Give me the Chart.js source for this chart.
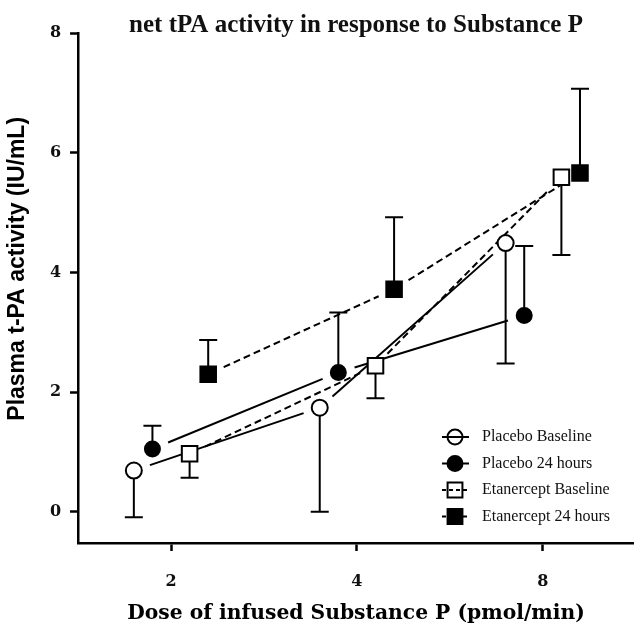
<!DOCTYPE html>
<html><head><meta charset="utf-8">
<script src="https://cdn.jsdelivr.net/npm/chart.js@4.4.1/dist/chart.umd.min.js"></script>
<style>html,body{margin:0;padding:0;background:#fff;overflow:hidden}canvas{display:block}</style>
</head><body><canvas id="c" width="634" height="626"></canvas>
<script>
// ---- data ----
const doses = [2, 4, 8];
const xTickLabels = ['2', '4', '8'];
const yTickValues = [0, 2, 4, 6, 8];
const yTickLabels = ['0', '2', '4', '6', '8'];
const seriesNames = ['Placebo Baseline', 'Placebo 24 hours', 'Etanercept Baseline', 'Etanercept 24 hours'];
const placeboBaseline = [0.69, 1.74, 4.49];
const placeboBaselineErr = [0.78, 1.74, 2.01];
const placebo24h = [1.05, 2.33, 3.28];
const placebo24hErr = [0.39, 1.00, 1.16];
const etanerceptBaseline = [0.97, 2.44, 5.59];
const etanerceptBaselineErr = [0.40, 0.54, 1.30];
const etanercept24h = [2.30, 3.72, 5.66];
const etanercept24hErr = [0.57, 1.20, 1.41];

// ---- styles (positions/sizes) ----
const styles = [
  {shift: -0.2, pointStyle: 'circle', fill: '#ffffff', radius: 8,   dash: [],     errDir: -1},
  {shift: -0.1, pointStyle: 'circle', fill: '#000000', radius: 7.5, dash: [],     errDir: 1},
  {shift:  0.1, pointStyle: 'rect',   fill: '#ffffff', radius: 11,  dash: [7, 4], errDir: -1},
  {shift:  0.2, pointStyle: 'rect',   fill: '#000000', radius: 11,  dash: [7, 4], errDir: 1}
];
const values = [placeboBaseline, placebo24h, etanerceptBaseline, etanercept24h];
const errors = [placeboBaselineErr, placebo24hErr, etanerceptBaselineErr, etanercept24hErr];

const datasets = seriesNames.map((name, k) => ({
  label: name,
  data: doses.map((d, i) => ({x: d * Math.pow(2, styles[k].shift), y: values[k][i]})),
  errors: errors[k],
  showLine: false,
  pointStyle: styles[k].pointStyle,
  pointRadius: styles[k].radius,
  pointHoverRadius: styles[k].radius,
  pointBackgroundColor: styles[k].fill,
  pointBorderColor: '#000',
  pointBorderWidth: 2,
  borderColor: '#000',
  backgroundColor: styles[k].fill
}));

function drawMarker(ctx, style, x, y, r, fill) {
  ctx.beginPath();
  if (style === 'circle') {
    ctx.arc(x, y, r, 0, Math.PI * 2);
  } else {
    const s = r * Math.SQRT1_2;
    ctx.rect(x - s, y - s, 2 * s, 2 * s);
  }
  if (fill) { ctx.fillStyle = fill; ctx.fill(); }
  ctx.lineWidth = 2; ctx.strokeStyle = '#000'; ctx.stroke();
}

const prismPlugin = {
  id: 'prism',
  beforeDatasetsDraw(chart) {
    const ctx = chart.ctx;
    const ys = chart.scales.y;
    chart.data.datasets.forEach((ds, di) => {
      const meta = chart.getDatasetMeta(di);
      const st = styles[di];
      ctx.save();
      ctx.strokeStyle = '#000';
      ctx.lineWidth = 2;
      // connecting lines, stopping short of the markers
      ctx.setLineDash(st.dash);
      for (let i = 0; i < meta.data.length - 1; i++) {
        const a = meta.data[i], b = meta.data[i + 1];
        const dx = b.x - a.x, dy = b.y - a.y, L = Math.hypot(dx, dy);
        const g = 17;
        if (L <= 2 * g) continue;
        ctx.beginPath();
        ctx.moveTo(a.x + dx * g / L, a.y + dy * g / L);
        ctx.lineTo(b.x - dx * g / L, b.y - dy * g / L);
        ctx.stroke();
      }
      ctx.setLineDash([]);
      // one-sided error bars
      meta.data.forEach((pt, i) => {
        const end = ds.data[i].y + st.errDir * ds.errors[i];
        const ye = ys.getPixelForValue(end);
        ctx.beginPath();
        ctx.moveTo(pt.x, pt.y); ctx.lineTo(pt.x, ye);
        ctx.moveTo(pt.x - 9, ye); ctx.lineTo(pt.x + 9, ye);
        ctx.stroke();
      });
      ctx.restore();
    });
  },
  afterDraw(chart) {
    const ctx = chart.ctx;
    const ca = chart.chartArea;
    const mx = ca.right - 179, y0 = ca.bottom - 106, step = 26.5;
    ctx.save();
    chart.data.datasets.forEach((ds, di) => {
      const st = styles[di];
      const y = y0 + di * step;
      ctx.strokeStyle = '#000'; ctx.lineWidth = 2;
      ctx.setLineDash(st.dash.length ? [4, 3] : []);
      ctx.beginPath(); ctx.moveTo(mx - 13, y); ctx.lineTo(mx + 14, y); ctx.stroke();
      ctx.setLineDash([]);
      drawMarker(ctx, st.pointStyle, mx, y, st.pointStyle === 'circle' ? 7.5 : 10.5, st.fill === '#000000' ? '#000' : null);
      ctx.fillStyle = '#111';
      ctx.font = '16px "Liberation Serif"';
      ctx.textBaseline = 'middle';
      ctx.textAlign = 'left';
      ctx.fillText(ds.label, mx + 27, y);
    });
    ctx.restore();
  }
};

const tickFont = {family: 'DejaVu Serif', weight: 'bold', size: 16};

new Chart(document.getElementById('c'), {
  type: 'scatter',
  data: {datasets},
  plugins: [prismPlugin],
  options: {
    responsive: false,
    animation: false,
    devicePixelRatio: 1,
    layout: {autoPadding: false, padding: {left: 0, right: 0, top: 0, bottom: 0}},
    plugins: {
      legend: {display: false},
      tooltip: {enabled: false},
      title: {
        display: true,
        fullSize: false,
        text: 'net tPA activity in response to Substance P',
        color: '#111',
        font: {family: 'Liberation Serif', weight: 'bold', size: 25, lineHeight: 0.88},
        padding: {top: 15, bottom: -4}
      }
    },
    scales: {
      x: {
        type: 'logarithmic',
        min: 1.414,
        max: 11.24,
        afterBuildTicks: s => { s.ticks = doses.map(v => ({value: v})); },
        ticks: {
          callback: (v, i) => xTickLabels[i],
          font: tickFont, color: '#111', padding: 21, maxRotation: 0, autoSkip: false
        },
        grid: {display: true, drawOnChartArea: false, drawTicks: true, tickLength: 8, tickWidth: 2.5, tickColor: '#000'},
        border: {display: true, color: '#000', width: 2.5},
        title: {
          display: true,
          text: 'Dose of infused Substance P (pmol/min)',
          color: '#000',
          font: {family: 'DejaVu Serif', weight: 'bold', size: 20.3, lineHeight: 1},
          padding: {top: -8.5, bottom: 2}
        }
      },
      y: {
        type: 'linear',
        min: -0.52,
        max: 8,
        afterBuildTicks: s => { s.ticks = yTickValues.map(v => ({value: v})); },
        ticks: {
          callback: (v, i) => yTickLabels[i],
          font: tickFont, color: '#111', padding: 9
        },
        grid: {display: true, drawOnChartArea: false, drawTicks: true, tickLength: 8, tickWidth: 2.5, tickColor: '#000'},
        border: {display: true, color: '#000', width: 2.5},
        title: {
          display: true,
          text: '      Plasma t-PA activity (IU/mL)',
          color: '#000',
          font: {family: 'Liberation Sans', weight: 'bold', size: 23},
          padding: {top: 4, bottom: 9.3}
        }
      }
    }
  }
});
</script>
</body></html>
